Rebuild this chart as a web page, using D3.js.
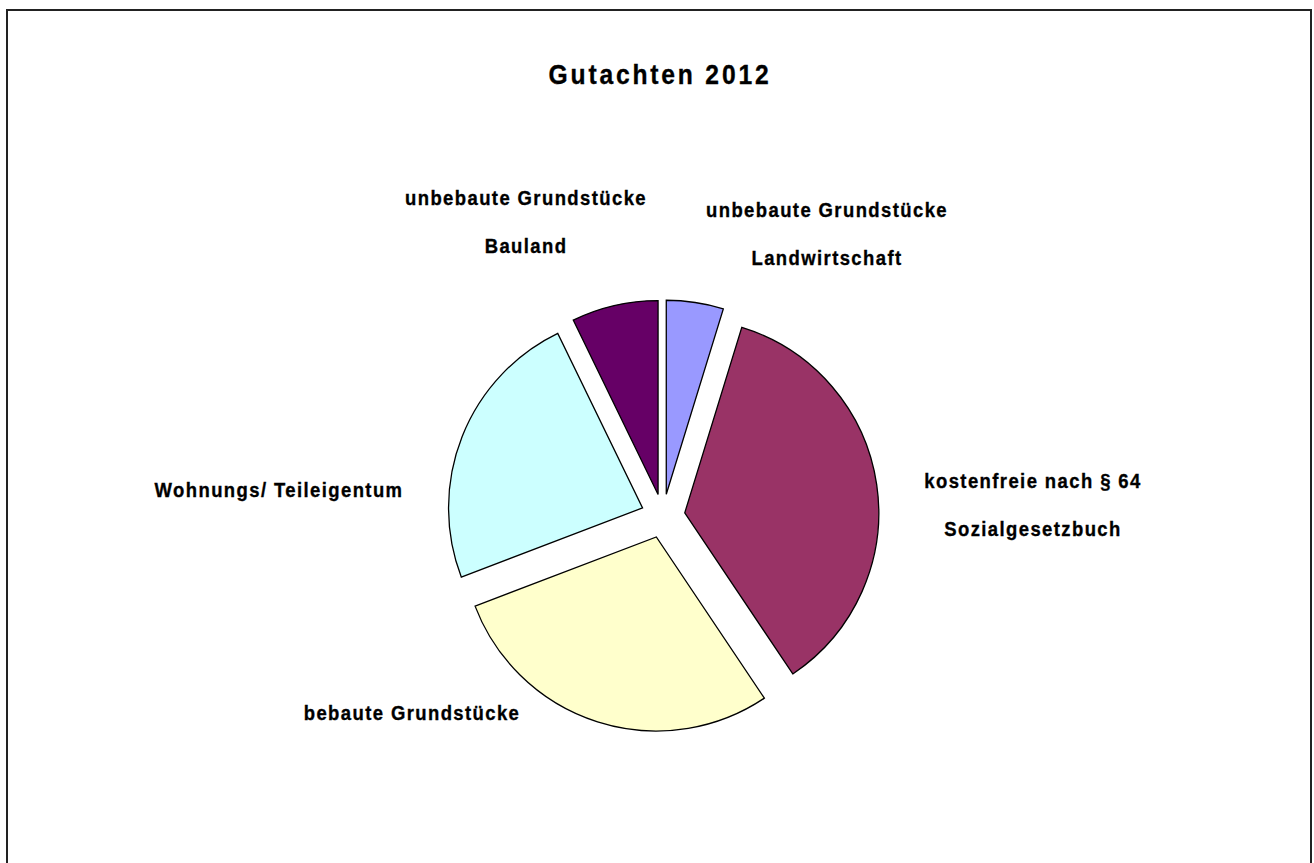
<!DOCTYPE html>
<html>
<head>
<meta charset="utf-8">
<script src="https://cdn.jsdelivr.net/npm/d3@7"></script>
<style>
  html, body { margin: 0; padding: 0; background: #fff; }
  svg { display: block; }
  text { font-family: "Liberation Sans", Arial, sans-serif; font-weight: bold; fill: #000; stroke: #000; stroke-width: 0.35px; }
</style>
</head>
<body>
<svg id="chart" width="1314" height="863"></svg>
<script>
const title = "Gutachten 2012";
const categories = [
  ["unbebaute Grundstücke", "Landwirtschaft"],
  ["kostenfreie nach § 64", "Sozialgesetzbuch"],
  ["bebaute Grundstücke"],
  ["Wohnungs/ Teileigentum"],
  ["unbebaute Grundstücke", "Bauland"]
];
const values = [4.75, 35.85, 28.6, 23.6, 7.2];
const colors = ["#9999FF", "#993366", "#FFFFCC", "#CCFFFF", "#660066"];
// label anchor positions (centre x, first baseline y)
const labelPos = [[827, 217], [1033, 488], [412, 720], [279, 497], [526, 205]];

const svg = d3.select("#chart");
const SX = 0.88;

svg.append("rect")
  .attr("x", 7).attr("y", 10)
  .attr("width", 1304).attr("height", 870)
  .attr("fill", "#fff").attr("stroke", "#222").attr("stroke-width", 2);

svg.append("g")
  .attr("transform", `translate(660,84) scale(${SX},1)`)
  .append("text")
  .attr("text-anchor", "middle")
  .style("font-size", "28px")
  .style("letter-spacing", "3.2px")
  .text(title);

const cx = 663, cy = 516, R = 194, explode = 22;
const pie = d3.pie().sort(null).value(d => d).startAngle(0).endAngle(2 * Math.PI);
const arcs = pie(values);
const arc = d3.arc().innerRadius(0).outerRadius(R);

const g = svg.append("g").attr("transform", `translate(${cx},${cy})`);
g.selectAll("path.slice")
  .data(arcs)
  .join("path")
  .attr("class", "slice")
  .attr("d", arc)
  .attr("fill", (d, i) => colors[i])
  .attr("stroke", "#000")
  .attr("stroke-width", 1.3)
  .attr("stroke-linejoin", "miter")
  .attr("transform", d => {
    const a = (d.startAngle + d.endAngle) / 2;
    return `translate(${explode * Math.sin(a)},${-explode * Math.cos(a)})`;
  });

categories.forEach((lines, i) => {
  const t = svg.append("g")
    .attr("transform", `translate(${labelPos[i][0]},${labelPos[i][1]}) scale(${SX},1)`)
    .append("text")
    .attr("text-anchor", "middle")
    .style("font-size", "21px")
    .style("letter-spacing", "1.6px");
  lines.forEach((ln, j) => {
    t.append("tspan")
      .attr("x", 0)
      .attr("y", j * 48)
      .text(ln);
  });
});
</script>
</body>
</html>
